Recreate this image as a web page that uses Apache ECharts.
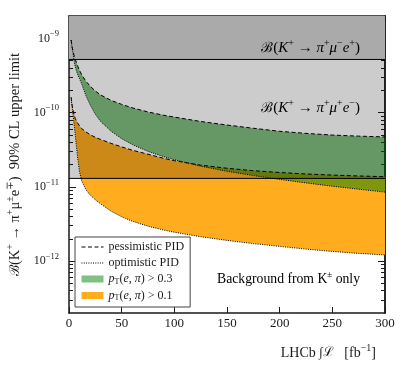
<!DOCTYPE html>
<html>
<head>
<meta charset="utf-8">
<script src="https://cdn.jsdelivr.net/npm/echarts@6/dist/echarts.min.js"></script>
<style>
html, body { margin: 0; padding: 0; background: #fff; }
#chart { width: 411px; height: 370px; }
</style>
</head>
<body>
<div id="chart"></div>
<script>
// integrated luminosity [fb^-1]
const lumi = [2, 3, 4, 5, 6, 8, 10, 12, 16, 20, 25, 30, 40, 50, 60, 75, 90, 100, 125, 150, 175, 200, 225, 250, 275, 300]
// pT(e,pi) > 0.3 band
const tightPess = [9.5e-10, 7.6e-10, 6.5e-10, 5.8e-10, 5.2e-10, 4.3e-10, 3.7e-10, 3.25e-10, 2.65e-10, 2.28e-10, 1.95e-10, 1.73e-10, 1.46e-10, 1.29e-10, 1.16e-10, 1.02e-10, 9.2e-11, 8.7e-11, 7.6e-11, 6.8e-11, 6.15e-11, 5.6e-11, 5.25e-11, 4.98e-11, 4.82e-11, 4.7e-11]
const tightOpt = [9.5e-10, 7.4e-10, 6.0e-10, 4.8e-10, 4.1e-10, 3.3e-10, 2.85e-10, 2.45e-10, 1.7e-10, 1.28e-10, 9.5e-11, 7.6e-11, 5.6e-11, 4.45e-11, 3.72e-11, 3.0e-11, 2.55e-11, 2.32e-11, 1.9e-11, 1.62e-11, 1.42e-11, 1.26e-11, 1.13e-11, 1.02e-11, 9.3e-12, 8.5e-12]
// pT(e,pi) > 0.1 band
const loosePess = [1.6e-10, 1.25e-10, 1.05e-10, 9.2e-11, 8.3e-11, 7.3e-11, 6.6e-11, 6.1e-11, 5.5e-11, 5.05e-11, 4.65e-11, 4.35e-11, 3.85e-11, 3.45e-11, 3.12e-11, 2.75e-11, 2.42e-11, 2.25e-11, 1.96e-11, 1.78e-11, 1.65e-11, 1.56e-11, 1.49e-11, 1.44e-11, 1.40e-11, 1.37e-11]
const looseOpt = [1.6e-10, 1.15e-10, 8.8e-11, 6.6e-11, 4.9e-11, 2.6e-11, 1.6e-11, 1.2e-11, 9.2e-12, 7.8e-12, 6.7e-12, 5.9e-12, 4.7e-12, 3.95e-12, 3.45e-12, 2.95e-12, 2.62e-12, 2.45e-12, 2.13e-12, 1.9e-12, 1.72e-12, 1.58e-12, 1.45e-12, 1.35e-12, 1.27e-12, 1.21e-12]
// existing limits: K+ -> pi+ mu+ e-, K+ -> pi+ mu- e+
const limits = [1.3e-11, 5.2e-10]
const yTickPowers = [-12, -11, -10, -9]

const xMin = 0, xMax = 300
const yMin = 2e-13, yMax = 2e-9
const serif = '"Liberation Serif", "DejaVu Serif", serif'
const ink = '#1a1a1a'
const limitFill = ['rgba(0,0,0,0.2)', '#aaaaaa']

const chart = echarts.init(document.getElementById('chart'))

function band(name, lo, hi, fill, legendColor, z) {
  return {
    type: 'custom',
    name: name,
    z: z,
    silent: true,
    clip: true,
    itemStyle: { color: legendColor },
    data: lumi.map((l, i) => [l, lo[i], hi[i]]),
    encode: { x: 0, y: [1, 2] },
    renderItem(params, api) {
      if (params.dataIndex !== 0) return
      const top = lumi.map((l, i) => api.coord([l, hi[i]]))
      const bottom = lumi.map((l, i) => api.coord([l, lo[i]])).reverse()
      return { type: 'polygon', shape: { points: top.concat(bottom) }, style: { fill: fill } }
    }
  }
}

function edge(name, values, dash) {
  return {
    type: 'line',
    name: name,
    z: 8,
    silent: true,
    symbol: 'none',
    data: lumi.map((l, i) => [l, values[i]]),
    lineStyle: { color: '#000', width: 1, type: dash }
  }
}

// minor ticks (2..9 x 10^n), in log10 space for the plain tick axes
const minorLog = []
for (let p = -13; p <= -9; p++) {
  for (let k = 2; k <= 9; k++) {
    const v = k * Math.pow(10, p)
    if (v > yMin && v < yMax) minorLog.push(Math.log10(v))
  }
}
const majorLog = yTickPowers.slice()

function tickAxis(position, values, len) {
  return {
    type: 'value',
    position: position,
    min: Math.log10(yMin),
    max: Math.log10(yMax),
    axisLine: { show: position === 'right', lineStyle: { color: ink, width: 1.5 } },
    axisTick: { show: true, inside: true, length: len, customValues: values, lineStyle: { color: ink, width: 1 } },
    axisLabel: { show: false },
    splitLine: { show: false }
  }
}

function mathRich(size) {
  return {
    i: { fontStyle: 'italic', fontWeight: 'normal', fontSize: size, lineHeight: size + 6, fontFamily: serif, color: ink },
    c: { fontWeight: 'normal', fontSize: size - 1, lineHeight: size + 6, fontFamily: serif, color: ink },
    r: { fontWeight: 'normal', fontSize: size, lineHeight: size + 6, fontFamily: serif, color: ink },
    u: { fontWeight: 'normal', fontSize: Math.round(size * 0.68), verticalAlign: 'top', lineHeight: Math.round(size * 0.68), fontFamily: serif, color: ink }
  }
}

const legendText = {
  'pessimistic PID': '{r|pessimistic PID}',
  'optimistic PID': '{r|optimistic PID}',
  'pT(e,π) > 0.3': '{i|p}{t|T}{r|(}{i|e}{r|, }{i|π}{r|) > 0.3}',
  'pT(e,π) > 0.1': '{i|p}{t|T}{r|(}{i|e}{r|, }{i|π}{r|) > 0.1}'
}
const lineKey = { itemStyle: { opacity: 0 }, lineStyle: { width: 1 } }

const option = {
  animation: false,
  backgroundColor: '#fff',
  grid: { left: 69, right: 26, top: 16, bottom: 57, outerBoundsMode: 'none', containLabel: false },
  title: {
    text: '{r|LHCb }{c|∫ℒ}{r|   [fb}{u|−1}{r|]}',
    right: 30,
    top: 338,
    textStyle: { fontWeight: 'normal', rich: mathRich(14) }
  },
  legend: {
    left: 75,
    top: 237,
    orient: 'vertical',
    itemWidth: 22,
    itemHeight: 7,
    itemGap: 4,
    padding: [4, 6, 5, 6],
    backgroundColor: '#fff',
    borderColor: '#444',
    borderWidth: 1,
    borderRadius: 0,
    data: [
      Object.assign({ name: 'pessimistic PID' }, lineKey),
      Object.assign({ name: 'optimistic PID' }, lineKey),
      { name: 'pT(e,π) > 0.3', icon: 'rect' },
      { name: 'pT(e,π) > 0.1', icon: 'rect' }
    ],
    formatter: name => legendText[name],
    textStyle: {
      fontFamily: serif,
      fontSize: 12,
      color: ink,
      rich: {
        r: { fontSize: 12, fontFamily: serif, color: ink, lineHeight: 13 },
        i: { fontSize: 12, fontStyle: 'italic', fontFamily: serif, color: ink, lineHeight: 13 },
        t: { fontSize: 8, verticalAlign: 'bottom', lineHeight: 8, fontFamily: serif, color: ink }
      }
    }
  },
  xAxis: [
    {
      type: 'value', min: xMin, max: xMax, interval: 50, position: 'bottom',
      axisLine: { show: true, lineStyle: { color: ink, width: 1.5 } },
      axisTick: { inside: true, length: 6, lineStyle: { color: ink } },
      axisLabel: { margin: 4, fontFamily: serif, fontSize: 13, color: ink },
      splitLine: { show: false }
    },
    {
      type: 'value', min: xMin, max: xMax, interval: 50, position: 'top',
      axisLine: { show: true, lineStyle: { color: ink, width: 1.5 } },
      axisTick: { inside: true, length: 6, lineStyle: { color: ink } },
      axisLabel: { show: false },
      splitLine: { show: false }
    }
  ],
  yAxis: [
    {
      type: 'log', logBase: 10, min: yMin, max: yMax, position: 'left',
      name: '{c|ℬ}{r|(K}{u|+}{r| → π}{u|+}{r|μ}{u|±}{r|e}{u|∓}{r|)  90% CL upper limit}',
      nameLocation: 'middle',
      nameGap: 42,
      nameTextStyle: { rich: mathRich(14.5) },
      axisLine: { show: true, lineStyle: { color: ink, width: 1.5 } },
      axisTick: { inside: true, length: 7, lineStyle: { color: ink } },
      axisLabel: {
        margin: 10,
        showMinLabel: false,
        showMaxLabel: false,
        formatter: v => '{n|10}{e|−' + (-Math.round(Math.log10(v))) + '}',
        rich: {
          n: { fontSize: 12, fontFamily: serif, color: ink, lineHeight: 18 },
          e: { fontSize: 8.5, fontFamily: serif, color: ink, verticalAlign: 'top', lineHeight: 9 }
        }
      },
      splitLine: { show: false }
    },
    tickAxis('left', minorLog, 4),
    tickAxis('right', majorLog, 7),
    tickAxis('right', minorLog, 4)
  ],
  graphic: [
    {
      type: 'text', right: 51, top: 38, z: 20,
      style: { text: '{c|ℬ}{r|(}{i|K}{u|+}{r| → }{i|π}{u|+}{i|μ}{u|−}{i|e}{u|+}{r|)}', rich: mathRich(15) }
    },
    {
      type: 'text', right: 51, top: 98, z: 20,
      style: { text: '{c|ℬ}{r|(}{i|K}{u|+}{r| → }{i|π}{u|+}{i|μ}{u|+}{i|e}{u|−}{r|)}', rich: mathRich(15) }
    },
    {
      type: 'text', right: 51, top: 270, z: 20,
      style: { text: '{r|Background from K}{u|±}{r| only}', rich: mathRich(13.7) }
    }
  ],
  series: [
    band('pT(e,π) > 0.1', looseOpt, loosePess, '#ffac1e', '#ffac1e', 2),
    band('pT(e,π) > 0.3', tightOpt, tightPess, 'rgba(0,128,0,0.5)', '#80c080', 3),
    {
      type: 'custom',
      z: 5,
      silent: true,
      data: limits.map((v, i) => [v, i]),
      encode: { y: 0 },
      renderItem(params, api) {
        const lo = api.coord([xMin, api.value(0)])
        const hi = api.coord([xMax, yMax])
        return {
          type: 'group',
          children: [
            { type: 'rect', shape: { x: lo[0], y: hi[1], width: hi[0] - lo[0], height: lo[1] - hi[1] }, style: { fill: limitFill[params.dataIndex] } },
            { type: 'line', shape: { x1: lo[0], y1: lo[1], x2: hi[0], y2: lo[1] }, style: { stroke: '#000', lineWidth: 1 } }
          ]
        }
      }
    },
    edge('pessimistic PID', tightPess, [4, 2.5]),
    edge('optimistic PID', tightOpt, [1, 1.3]),
    edge('pessimistic PID', loosePess, [4, 2.5]),
    edge('optimistic PID', looseOpt, [1, 1.3])
  ]
}

chart.setOption(option)
</script>
</body>
</html>
